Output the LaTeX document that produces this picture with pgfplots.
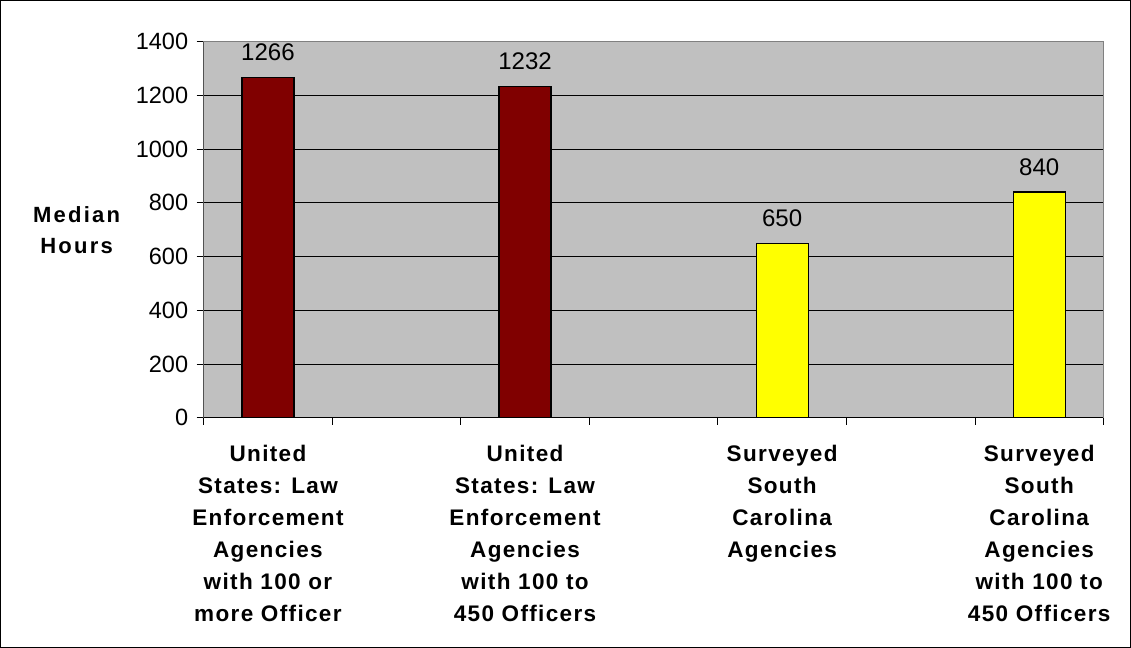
\documentclass[border=0pt]{standalone}
\usepackage{pgfplots}
\pgfplotsset{compat=1.18}
\usepackage{fontspec}
\setmainfont{Liberation Sans}
\newfontfamily\spacedA[LetterSpace=6]{Liberation Sans}
\newfontfamily\spacedB[LetterSpace=10]{Liberation Sans}
\definecolor{plotgray}{HTML}{C0C0C0}
\definecolor{darkred}{HTML}{800000}
\definecolor{brightyellow}{HTML}{FFFF00}
\definecolor{bordergray}{HTML}{808080}
\begin{document}
\begin{tikzpicture}
\begin{axis}[
  name=ax,
  width=899pt, height=376pt, scale only axis,
  xmin=-0.5, xmax=6.5, ymin=0, ymax=1400,
  ytick={0,200,...,1400},
  xtick={-0.5,0.5,...,6.5}, xticklabels={},
  extra x ticks={0,2,4,6},
  extra x tick labels={{United\\States: Law\\Enforcement\\Agencies\\with 100 or\\more Officer},
                       {United\\States: Law\\Enforcement\\Agencies\\with 100 to\\450 Officers},
                       {Surveyed\\South\\Carolina\\Agencies},
                       {Surveyed\\South\\Carolina\\Agencies\\with 100 to\\450 Officers}},
  extra x tick style={major tick length=0pt, grid=none,
     xticklabel style={align=center, anchor=north, font=\spacedA\bfseries\fontsize{22.5}{32}\selectfont, yshift=-23.5pt}},
  tick pos=left, tick align=outside, major tick length=7pt,
  tick style={black, line width=0.8pt},
  ymajorgrids, grid style={black, line width=0.8pt},
  axis background/.style={fill=plotgray},
  axis line style={draw=bordergray, line width=0.8pt},
  /pgf/number format/assume math mode=true,
  /pgf/number format/1000 sep={},
  yticklabel style={font=\fontsize{23.5}{27}\selectfont, xshift=-5pt},
  ylabel={Median\\Hours},
  ylabel style={rotate=-90, align=center, font=\spacedB\bfseries\fontsize{22}{31}\selectfont,
     at={(rel axis cs:0,0.5)}, anchor=center, xshift=-127pt},
]
\addplot[ybar, bar shift=0pt, bar width=52pt, fill=darkred, draw=black, line width=1.2pt,
  nodes near coords,
  nodes near coords style={anchor=south, inner sep=0pt, yshift=16pt, font=\fontsize{24}{28}\selectfont, text=black}]
  coordinates {(0,1266) (2,1232)};
\addplot[ybar, bar shift=0pt, bar width=52pt, fill=brightyellow, draw=black, line width=1.2pt,
  nodes near coords,
  nodes near coords style={anchor=south, inner sep=0pt, yshift=16pt, font=\fontsize{24}{28}\selectfont, text=black}]
  coordinates {(4,650) (6,840)};
\draw[black, line width=1pt] (rel axis cs:0,1) -- (rel axis cs:0,0) -- (rel axis cs:1,0);
\end{axis}
\pgfresetboundingbox
\draw[black, line width=1pt] ([xshift=-203pt,yshift=-229pt]ax.south west) rectangle ([xshift=27pt,yshift=41pt]ax.north east);
\end{tikzpicture}
\end{document}
